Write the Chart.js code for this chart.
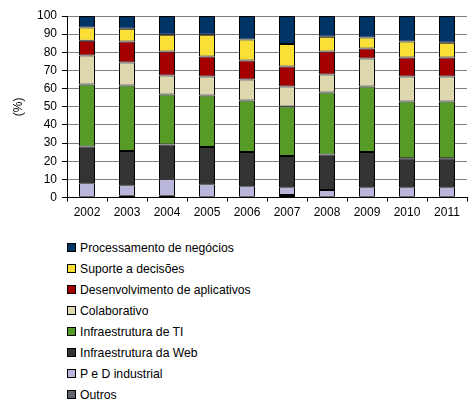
<!DOCTYPE html>
<html>
<head>
<meta charset="utf-8">
<script src="https://cdn.jsdelivr.net/npm/chart.js@4"></script>
<style>
  body { margin: 0; background: #fff; font-family: "Liberation Sans", Arial, sans-serif; }
  #wrap { position: relative; width: 474px; height: 409px; }
  #chart { position: absolute; left: 0; top: 0; }
  #legend { position: absolute; left: 67px; top: 237px; font-size: 12.2px; color: #000; }
  .item { height: 21px; display: flex; align-items: center; }
  .box { width: 7px; height: 7px; border: 1px solid #000; margin-right: 4px; }
</style>
</head>
<body>
<div id="wrap">
  <canvas id="chart" width="474" height="224"></canvas>
  <div id="legend"></div>
</div>
<script>
// Years
const years = ['2002', '2003', '2004', '2005', '2006', '2007', '2008', '2009', '2010', '2011'];

// Shares in % (stack order, bottom to top)
const outros        = [0.5, 1, 1, 0.5, 0.5, 1.5, 0.5, 0.5, 0.5, 0.5];
const pedIndustrial = [7.4, 5.8, 9.1, 6.8, 5.7, 4.2, 3.7, 5.2, 5.2, 5.2];
const infraWeb      = [20.3, 18.8, 19.2, 20.5, 18.9, 17.2, 19.6, 19.4, 15.9, 15.9];
const infraTI       = [34.1, 36.1, 27.5, 28.4, 28.4, 27.3, 34.1, 36.1, 31.3, 31.3];
const colaborativo  = [15.9, 12.7, 10.4, 10.5, 11.5, 11.0, 9.9, 15.4, 13.8, 13.8];
const desenvolvimento = [8.2, 11.5, 13.2, 11.0, 10.5, 11.0, 12.6, 5.5, 10.4, 10.4];
const suporte       = [7.2, 7.1, 9.3, 12.0, 11.5, 12.4, 8.2, 6.0, 8.8, 8.2];
const processamento = [6.4, 7.0, 10.3, 10.3, 13.0, 15.4, 11.4, 11.9, 14.1, 14.7];

const yTicks = [0, 10, 20, 30, 40, 50, 60, 70, 80, 90, 100];

const series = [
  { label: 'Outros', data: outros, color: '#5f6370' },
  { label: 'P e D industrial', data: pedIndustrial, color: '#b8b6da' },
  { label: 'Infraestrutura da Web', data: infraWeb, color: '#333333' },
  { label: 'Infraestrutura de TI', data: infraTI, color: '#559b25' },
  { label: 'Colaborativo', data: colaborativo, color: '#ddd8ad' },
  { label: 'Desenvolvimento de aplicativos', data: desenvolvimento, color: '#a40000' },
  { label: 'Suporte a decisões', data: suporte, color: '#f9df36' },
  { label: 'Processamento de negócios', data: processamento, color: '#003366' }
];

const font = { family: '"Liberation Sans", Arial, sans-serif', size: 12 };

new Chart(document.getElementById('chart'), {
  type: 'bar',
  data: {
    labels: years,
    datasets: series.map(s => ({
      label: s.label,
      data: s.data,
      backgroundColor: s.color,
      borderColor: '#000',
      borderWidth: 1,
      borderSkipped: false,
      barPercentage: 0.4,
      categoryPercentage: 1
    }))
  },
  options: {
    responsive: false,
    animation: false,
    layout: { padding: { top: 16, right: 7, left: 7, bottom: 0 } },
    plugins: {
      legend: { display: false },
      tooltip: { enabled: false }
    },
    scales: {
      x: {
        stacked: true,
        grid: { drawOnChartArea: false, offset: true, tickLength: 4, color: '#000' },
        border: { color: '#000' },
        ticks: { color: '#000', font: font, padding: 4 }
      },
      y: {
        stacked: true,
        min: 0,
        max: 100,
        afterBuildTicks: axis => { axis.ticks = yTicks.map(v => ({ value: v })); },
        afterFit: axis => { axis.width = 60; },
        grid: { color: '#808080', tickColor: '#000', tickLength: 5 },
        border: { color: '#000' },
        ticks: { color: '#000', font: font, padding: 5 },
        title: { display: true, text: '(%)', color: '#000', font: font, padding: 4 }
      }
    }
  }
});

// Legend, top item is the top of the stack
const legend = document.getElementById('legend');
series.slice().reverse().forEach(s => {
  const row = document.createElement('div');
  row.className = 'item';
  row.innerHTML = `<span class="box" style="background:${s.color}"></span><span>${s.label}</span>`;
  legend.appendChild(row);
});
</script>
</body>
</html>
